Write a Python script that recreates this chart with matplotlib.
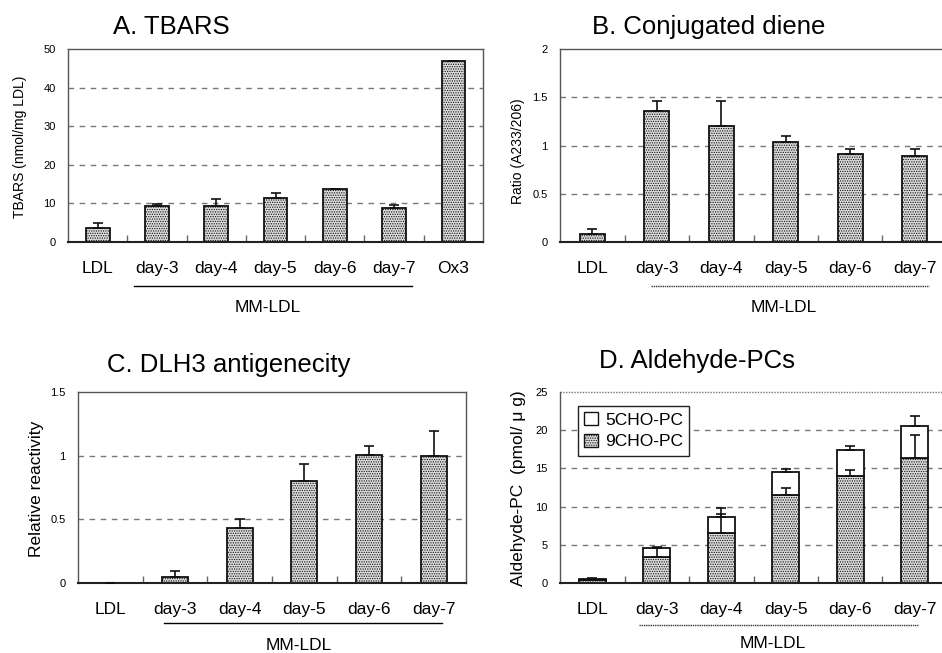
import matplotlib.pyplot as plt
import numpy as np

plt.rcParams['font.family'] = ['Liberation Sans', 'Noto Sans CJK JP', 'DejaVu Sans']
plt.rcParams['hatch.linewidth'] = 0.6
plt.rcParams['hatch.color'] = '#333333'

# data
labels_a = ["LDL", "day-3", "day-4", "day-5", "day-6", "day-7", "Ox3"]
tbars = [3.6, 9.4, 9.4, 11.4, 13.8, 8.8, 46.8]
tbars_err = [1.3, 0.5, 1.7, 1.3, 0.0, 0.9, 0.0]

labels = ["LDL", "day-3", "day-4", "day-5", "day-6", "day-7"]
diene = [0.087, 1.355, 1.203, 1.033, 0.915, 0.894]
diene_err = [0.048, 0.111, 0.263, 0.063, 0.049, 0.07]

dlh3 = [0.0, 0.047, 0.433, 0.804, 1.005, 1.0]
dlh3_err = [0.0, 0.044, 0.073, 0.128, 0.07, 0.195]

cho9 = [0.4, 3.4, 6.6, 11.5, 14.0, 16.3]
cho9_err = [0.0, 1.2, 2.4, 0.9, 0.8, 3.1]
cho5 = [0.16, 1.2, 2.0, 3.0, 3.4, 4.2]
cho5_err = [0.15, 0.1, 1.27, 0.45, 0.5, 1.4]

W, H = 942, 653
fig = plt.figure(figsize=(W/100, H/100), dpi=100)


# axes from pixel box
def box(x0, y0, x1, y1):
    return fig.add_axes([x0/W, 1 - y1/H, (x1-x0)/W, (y1-y0)/H])


def ftext(x, y, s, **kw):
    fig.text(x/W, 1 - y/H, s, **kw)


def fline(x0, x1, y, **kw):
    fig.add_artist(plt.Line2D([x0/W, x1/W], [1 - y/H, 1 - y/H], transform=fig.transFigure, **kw))


def style(ax, n, ymax, yticks, ticklabels, grid_ls, top_spine=True):
    ax.set_xlim(-0.5, n - 0.5)
    ax.set_ylim(0, ymax)
    ax.set_yticks(yticks)
    ax.set_yticklabels(ticklabels, fontsize=8)
    ax.tick_params(axis='y', length=0, pad=9)
    ax.set_xticks(range(n))
    ax.set_xticklabels(labels_a[:n], fontsize=12.5)
    ax.tick_params(axis='x', length=0, pad=14)
    ax.set_xticks(np.arange(0.5, n - 0.5), minor=True)
    ax.tick_params(axis='x', which='minor', direction='in', length=5, color='#666666', width=1)
    for t in yticks[1:-1]:
        ax.axhline(t, color='#777777', lw=1, ls=grid_ls, zorder=0.5)
    for s in ['left', 'right', 'top']:
        ax.spines[s].set_color('#555555')
        ax.spines[s].set_linewidth(1)
    ax.spines['bottom'].set_color('#222222')
    ax.spines['bottom'].set_linewidth(1.5)
    if not top_spine:
        ax.spines['top'].set_visible(False)
        ax.axhline(ymax, color='#777777', lw=1, ls=(0, (1, 1)), clip_on=False)


def bars(ax, vals, err, width, bottom=None, face='#dcdcdc', hatch='.......'):
    x = np.arange(len(vals))
    ax.bar(x, vals, width, bottom=bottom, color=face, hatch=hatch, edgecolor='#111111',
           linewidth=1.3, zorder=2)
    top = np.array(vals) + (0 if bottom is None else np.array(bottom))
    ax.errorbar(x, top, yerr=[np.zeros(len(err)), err], fmt='none', ecolor='#111111',
                elinewidth=1.2, capsize=3.5, capthick=1.2, zorder=3)


dash = (0, (4, 4))

# A. TBARS
axA = box(68, 49, 483, 242)
bars(axA, tbars, tbars_err, 0.4)
style(axA, 7, 50, [0, 10, 20, 30, 40, 50], ["0", "10", "20", "30", "40", "50"], dash)
ftext(113, 27, "A. TBARS", fontsize=18.5, va='center')
ftext(20, 147, "TBARS (nmol/mg LDL)", fontsize=10, rotation=90, va='center', ha='center')
fline(134, 412, 286, color='black', lw=1)
ftext(268, 308, "MM-LDL", fontsize=12.5, ha='center', va='center')

# B. Conjugated diene
axB = box(560, 49, 947, 242)
bars(axB, diene, diene_err, 0.38)
style(axB, 6, 2, [0, 0.5, 1, 1.5, 2], ["0", "0.5", "1", "1.5", "2"], dash)
ftext(592, 27, "B. Conjugated diene", fontsize=18.5, va='center')
ftext(518, 151, "Ratio (A233/206)", fontsize=10, rotation=90, va='center', ha='center')
fline(651, 929, 286, color='#333333', lw=1, ls=(0, (1, 0.6)))
ftext(784, 308, "MM-LDL", fontsize=12.5, ha='center', va='center')

# C. DLH3 antigenecity
axC = box(78, 392, 466, 583)
bars(axC, dlh3, dlh3_err, 0.4)
style(axC, 6, 1.5, [0, 0.5, 1, 1.5], ["0", "0.5", "1", "1.5"], dash)
ftext(107, 365, "C. DLH3 antigenecity", fontsize=18.5, va='center')
ftext(37, 489, "Relative reactivity", fontsize=12.5, rotation=90, va='center', ha='center')
fline(164, 442, 623, color='black', lw=1)
ftext(299, 645, "MM-LDL", fontsize=12.5, ha='center', va='center')

# D. Aldehyde-PCs
axD = box(560, 392, 947, 583)
bars(axD, cho9, cho9_err, 0.42)
bars(axD, cho5, cho5_err, 0.42, bottom=cho9, face='white', hatch=None)
style(axD, 6, 25, [0, 5, 10, 15, 20, 25], ["0", "5", "10", "15", "20", "25"], dash, top_spine=False)
h5 = plt.Rectangle((0, 0), 1, 1, facecolor='white', edgecolor='#111111', lw=1)
h9 = plt.Rectangle((0, 0), 1, 1, facecolor='#dcdcdc', hatch='.......', edgecolor='#111111', lw=1)
leg = axD.legend([h5, h9], ["5CHO-PC", "9CHO-PC"], loc='upper left',
                 bbox_to_anchor=(18/387, 1 - 14/191), borderaxespad=0,
                 fontsize=12.5, fancybox=False, framealpha=1, edgecolor='#222222', handlelength=0.8,
                 handleheight=0.8, handletextpad=0.4, borderpad=0.35, labelspacing=0.35)
leg.get_frame().set_linewidth(1)
ftext(599, 361, "D. Aldehyde-PCs", fontsize=18.5, va='center')
ftext(518, 488, "Aldehyde-PC  (pmol/ \u03bc g)", fontsize=12.5, rotation=90, va='center', ha='center')
fline(639, 918, 625, color='#333333', lw=1, ls=(0, (1, 0.6)))
ftext(773, 643, "MM-LDL", fontsize=12.5, ha='center', va='center')

fig.savefig("out.png", dpi=100)
